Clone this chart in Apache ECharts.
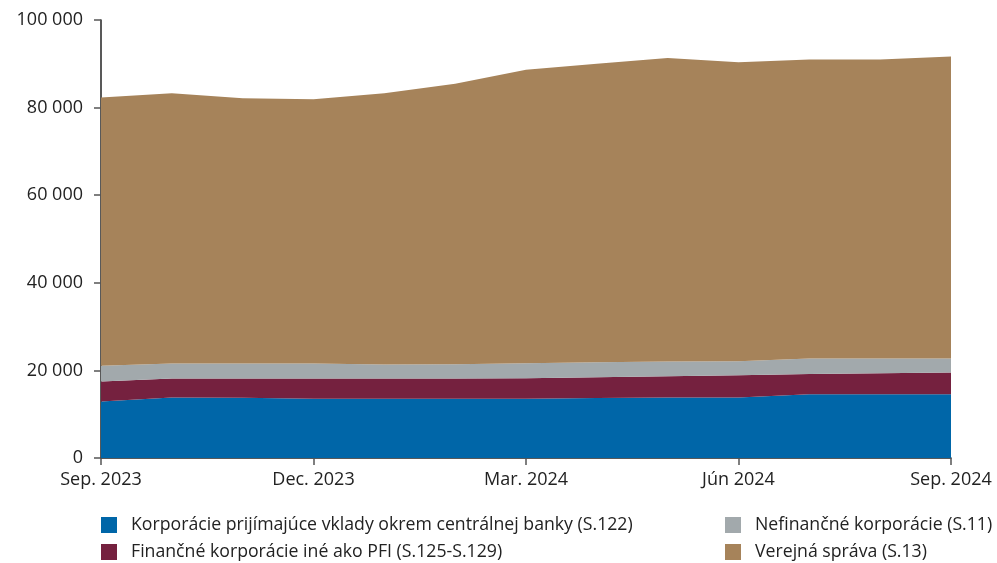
<!DOCTYPE html>
<html><head><meta charset="utf-8">
<script src="https://cdn.jsdelivr.net/npm/echarts@6/dist/echarts.min.js"></script>
<style>html,body{margin:0;padding:0;background:#fff}#c{width:997px;height:563px}</style>
</head><body><div id="c"></div>
<script>
const categories = ['Sep. 2023','Okt. 2023','Nov. 2023','Dec. 2023','Jan. 2024','Feb. 2024','Mar. 2024','Apr. 2024','Máj 2024','Jún 2024','Júl 2024','Aug. 2024','Sep. 2024'];
const seriesNames = ['Korporácie prijímajúce vklady okrem centrálnej banky (S.122)','Finančné korporácie iné ako PFI (S.125-S.129)','Nefinančné korporácie (S.11)','Verejná správa (S.13)'];
const s122 = [12900, 13800, 13750, 13500, 13500, 13500, 13500, 13700, 13800, 13800, 14550, 14550, 14550];
const s125 = [4580, 4350, 4400, 4650, 4650, 4650, 4720, 4750, 4880, 5100, 4650, 4800, 4970];
const s11 = [3590, 3430, 3430, 3430, 3200, 3250, 3440, 3430, 3350, 3200, 3520, 3370, 3200];
const s13 = [61250, 61720, 60570, 60340, 61950, 64030, 66970, 68120, 69270, 68280, 68280, 68280, 68950];
const colors = ['#0066a8', '#75213f', '#a2a9ac', '#a6835a'];
const values = [s122, s125, s11, s13];
const FONT = '"Open Sans", "Noto Sans", sans-serif';

const legendPos = [[101, 516], [101, 543], [725, 516], [725, 543]];
const legends = seriesNames.map((n, i) => ({
  data: [n], orient: 'horizontal', left: legendPos[i][0], top: legendPos[i][1], padding: 0,
  itemWidth: 16, itemHeight: 16, icon: 'rect', selectedMode: false,
  textStyle: {fontFamily: FONT, fontSize: 17.7, color: '#222', padding: [0, 0, 0, 9]}
}));

const chart = echarts.init(document.getElementById('c'), null, {renderer: 'canvas'});
chart.setOption({
  animation: false,
  color: colors,
  grid: {left: 101, right: 46, top: 20, bottom: 105, containLabel: false},
  legend: legends,
  xAxis: {
    type: 'category', data: categories, boundaryGap: false,
    axisLine: {lineStyle: {color: '#222', width: 1.5}},
    axisTick: {show: true, interval: 2, length: 7, lineStyle: {color: '#555', width: 1.5}},
    axisLabel: {interval: 2, fontFamily: FONT, fontSize: 18, color: '#222', margin: 13,
      showMinLabel: true, showMaxLabel: true},
    splitLine: {show: false}
  },
  yAxis: {
    type: 'value', min: 0, max: 100000, interval: 20000,
    axisLine: {show: true, lineStyle: {color: '#222', width: 1.5}},
    axisTick: {show: true, length: 7, lineStyle: {color: '#555', width: 1.5}},
    axisLabel: {fontFamily: FONT, fontSize: 18, color: '#222', margin: 18,
      formatter: v => String(v).replace(/\B(?=(\d{3})+(?!\d))/g, ' ')},
    splitLine: {show: false}
  },
  series: values.map((d, i) => ({
    name: seriesNames[i], type: 'line', stack: 'total', data: d,
    showSymbol: false, symbol: 'none',
    lineStyle: {width: 0}, areaStyle: {color: colors[i], opacity: 1},
    z: 2
  }))
});
</script></body></html>
